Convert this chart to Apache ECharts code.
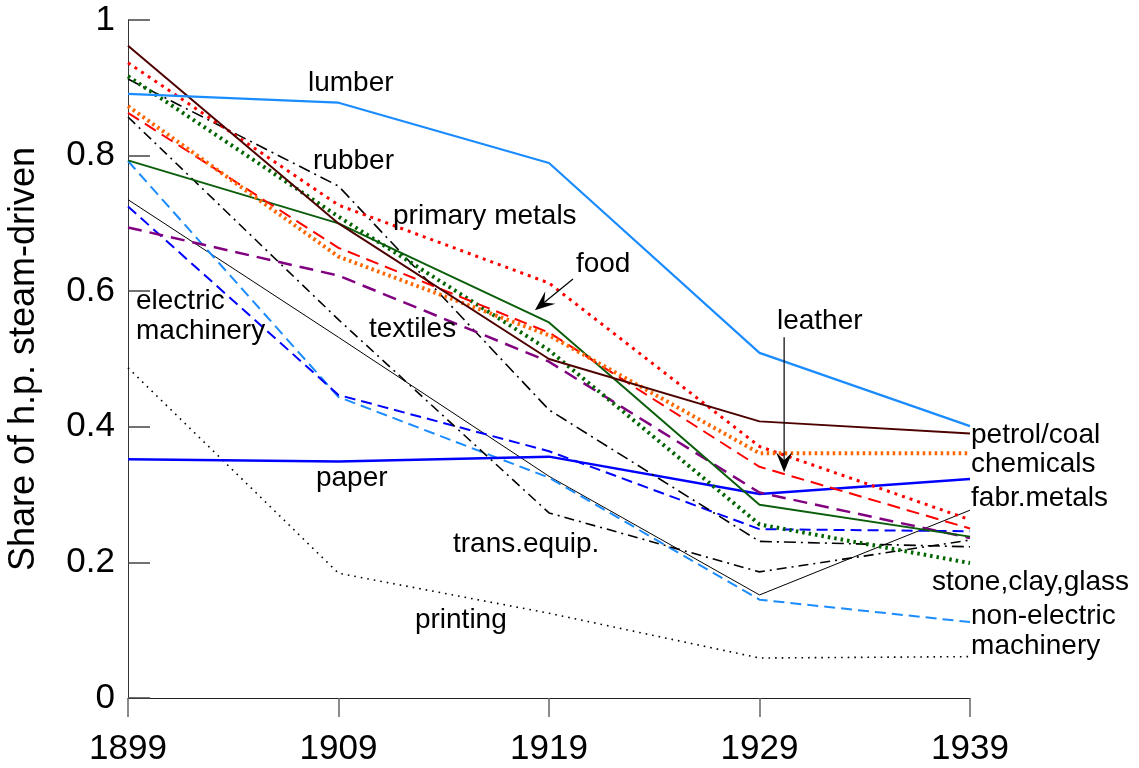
<!DOCTYPE html>
<html>
<head>
<meta charset="utf-8">
<script src="https://cdn.jsdelivr.net/npm/echarts@6/dist/echarts.min.js"></script>
<style>html,body{margin:0;padding:0;background:#fff}#c{width:1139px;height:768px}</style>
</head>
<body>
<div id="c"></div>
<script>
const years = ['1899','1909','1919','1929','1939'];
const yTicks = [0, 0.2, 0.4, 0.6, 0.8, 1];
const lumber = [0.891, 0.878, 0.789, 0.509, 0.401];
const petrolCoal = [0.962, 0.700, 0.500, 0.408, 0.390];
const chemicals = [0.873, 0.651, 0.535, 0.361, 0.361];
const leather = [0.863, 0.664, 0.539, 0.341, 0.250];
const primaryMetals = [0.937, 0.727, 0.612, 0.371, 0.263];
const food = [0.793, 0.700, 0.554, 0.285, 0.238];
const stoneClayGlass = [0.917, 0.710, 0.513, 0.256, 0.199];
const rubber = [0.913, 0.755, 0.425, 0.231, 0.223];
const transEquip = [0.857, 0.558, 0.273, 0.186, 0.233];
const textiles = [0.694, 0.623, 0.496, 0.303, 0.236];
const electricMachinery = [0.725, 0.447, 0.364, 0.249, 0.246];
const nonElectricMachinery = [0.792, 0.444, 0.325, 0.145, 0.112];
const fabrMetals = [0.735, 0.532, 0.327, 0.152, 0.277];
const paper = [0.352, 0.349, 0.356, 0.301, 0.323];
const printing = [0.487, 0.184, 0.125, 0.059, 0.061];

// annotation texts: [text, year position, value position]
const labelTexts = ['lumber','rubber','primary metals','food','electric\nmachinery','textiles','leather','paper','trans.equip.','printing','petrol/coal','chemicals','fabr.metals','stone,clay,glass','non-electric\nmachinery'];
const labelYears = [1907.55, 1907.79, 1911.59, 1920.28, 1899.38, 1910.45, 1929.83, 1907.93, 1914.44, 1912.63, 1939.05, 1939.05, 1939.05, 1937.19, 1939.05];
const labelValues = [0.906, 0.792, 0.711, 0.639, 0.563, 0.544, 0.555, 0.324, 0.226, 0.115, 0.388, 0.345, 0.295, 0.170, 0.098];
// arrows: [fromYear, fromValue, toYear, toValue]
const arrows = [[1920.14, 0.618, 1918.33, 0.572], [1930.17, 0.532, 1930.17, 0.333]];

const FONT = '"Liberation Sans", Arial, sans-serif';

function mk(name, data, color, width, type) {
  return {
    name: name, type: 'line', data: data, symbol: 'none', silent: true,
    lineStyle: {color: color, width: width, type: type, cap: 'butt'},
    z: 3
  };
}

const series = [
  mk('printing', printing, '#000000', 1.6, [1.6, 5]),
  mk('fabr.metals', fabrMetals, '#000000', 1, 'solid'),
  mk('non-electric machinery', nonElectricMachinery, '#1a8cff', 2, [11, 6]),
  mk('electric machinery', electricMachinery, '#0000ff', 2, [11, 6]),
  mk('paper', paper, '#0000ff', 2.5, 'solid'),
  mk('trans.equip.', transEquip, '#000000', 1.6, [10, 5, 2, 5]),
  mk('rubber', rubber, '#000000', 1.6, [12, 5, 2, 5]),
  mk('textiles', textiles, '#800080', 2.5, [14, 8]),
  mk('stone,clay,glass', stoneClayGlass, '#006400', 4, [2.5, 4]),
  mk('food', food, '#0b5e0b', 2, 'solid'),
  mk('primary metals', primaryMetals, '#ff0000', 3, [3, 5]),
  mk('leather', leather, '#ff0000', 2, [13, 7]),
  mk('chemicals', chemicals, '#ff6600', 4, [2.5, 3.5]),
  mk('petrol/coal', petrolCoal, '#4d0000', 2, 'solid'),
  mk('lumber', lumber, '#1a8cff', 2.2, 'solid')
];

const chart = echarts.init(document.getElementById('c'), null, {renderer: 'canvas'});
chart.setOption({
  animation: false,
  backgroundColor: '#fff',
  grid: {left: 128, right: 169, top: 20, bottom: 70, containLabel: false, outerBoundsMode: 'none'},
  xAxis: {
    type: 'category', data: years, boundaryGap: false,
    axisLine: {show: true, lineStyle: {color: '#222', width: 1}},
    axisTick: {show: true, length: 19, lineStyle: {color: '#666', width: 1.5}},
    axisLabel: {fontSize: 35, color: '#000', fontFamily: FONT, margin: 34},
    splitLine: {show: false}
  },
  yAxis: {
    type: 'value', min: yTicks[0], max: yTicks[yTicks.length - 1], interval: 0.2,
    name: 'Share of h.p. steam-driven', nameLocation: 'middle', nameGap: 86,
    nameTextStyle: {fontSize: 36, color: '#000', fontFamily: FONT},
    axisLine: {show: true, lineStyle: {color: '#333', width: 1}},
    axisTick: {show: true, inside: true, length: 22, lineStyle: {color: '#444', width: 1.5}},
    axisLabel: {fontSize: 35, color: '#000', fontFamily: FONT, margin: 13,
      formatter: function (v) { return String(Math.round(v * 10) / 10); }},
    splitLine: {show: false}
  },
  series: series
});

function px(year, value) {
  const a = chart.convertToPixel({xAxisIndex: 0}, 0);
  const b = chart.convertToPixel({xAxisIndex: 0}, years.length - 1);
  const y0 = +years[0], y1 = +years[years.length - 1];
  const x = a + (year - y0) / (y1 - y0) * (b - a);
  const y = chart.convertToPixel({yAxisIndex: 0}, value);
  return [x, y];
}

const graphics = [];
labelTexts.forEach(function (t, i) {
  const p = px(labelYears[i], labelValues[i]);
  graphics.push({
    type: 'text', x: p[0], y: p[1], silent: true, z: 10,
    style: {text: t, fontSize: 28, fontFamily: FONT, fill: '#000', align: 'left', verticalAlign: 'middle', lineHeight: 30}
  });
});
arrows.forEach(function (ar) {
  const p1 = px(ar[0], ar[1]);
  const p2 = px(ar[2], ar[3]);
  const dx = p2[0] - p1[0], dy = p2[1] - p1[1];
  const L = Math.sqrt(dx * dx + dy * dy);
  const ux = dx / L, uy = dy / L;
  const hl = 20, hw = 8;
  const bx = p2[0] - ux * hl, by = p2[1] - uy * hl;
  const nx = -uy, ny = ux;
  const mx = p2[0] - ux * hl * 0.6, my = p2[1] - uy * hl * 0.6;
  graphics.push({type: 'line', silent: true, z: 11, shape: {x1: p1[0], y1: p1[1], x2: mx, y2: my}, style: {stroke: '#000', lineWidth: 1.2}});
  graphics.push({type: 'polygon', silent: true, z: 11, shape: {points: [[p2[0], p2[1]], [bx + nx * hw, by + ny * hw], [mx, my], [bx - nx * hw, by - ny * hw]]}, style: {fill: '#000'}});
});
chart.setOption({graphic: graphics});
</script>
</body>
</html>
